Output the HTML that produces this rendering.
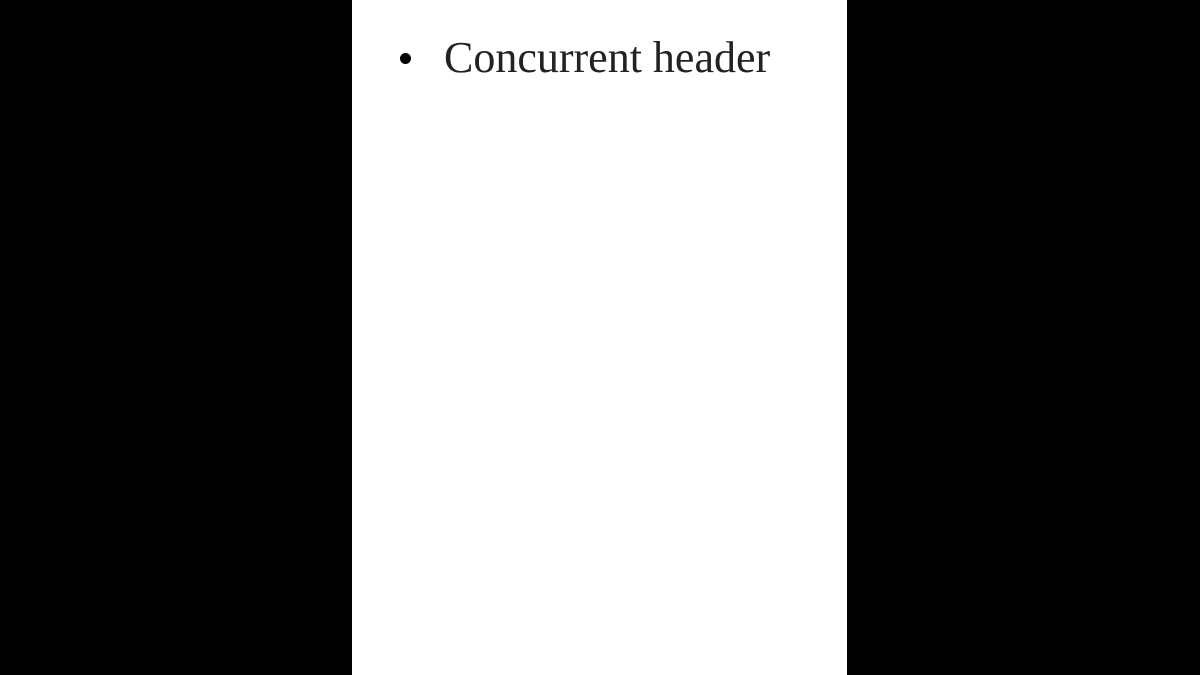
<!DOCTYPE html>
<html><head><style>
html,body{margin:0;padding:0;width:1200px;height:675px;background:#000;overflow:hidden}
.w{position:absolute;left:352px;top:0;width:495px;height:675px;background:#fff}
.b{position:absolute;left:400px;top:53px;width:11px;height:11px;border-radius:50%;background:#000}
.t{position:absolute;left:444px;top:33px;font-family:"Liberation Serif",serif;font-size:44px;line-height:50px;color:#222;white-space:nowrap}
</style></head><body>
<div class="w"></div><div class="b"></div><div class="t">Concurrent header</div>
</body></html>
